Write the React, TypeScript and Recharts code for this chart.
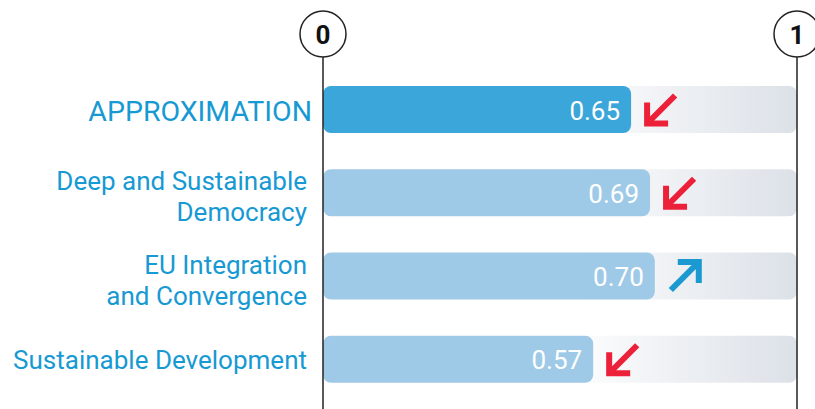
import { BarChart, Bar, XAxis, YAxis, Rectangle } from "recharts";

const categories = [
  "APPROXIMATION",
  "Deep and Sustainable\nDemocracy",
  "EU Integration\nand Convergence",
  "Sustainable Development",
];
const values = [0.65, 0.69, 0.7, 0.57];
const trends = ["down", "down", "up", "down"];
const axisTicks = [0, 1];

const data = categories.map((name, i) => ({
  name,
  value: values[i],
  trend: trends[i],
}));

const LABEL_BLUE = "#1799d3";
const RED = "#ec2139";

function CategoryTick(props: any) {
  const { x, y, payload, index } = props;
  const lines: string[] = String(payload.value).split("\n");
  const main = index === 0;
  const lineHeight = 31;
  const startY = y - ((lines.length - 1) * lineHeight) / 2 + (lines.length > 1 ? 4 : 1);
  const tx = main ? x : x - 5;
  return (
    <text
      x={tx}
      y={startY}
      textAnchor="end"
      dominantBaseline="central"
      fill={LABEL_BLUE}
      fontSize={main ? 28.5 : 26}
      fontFamily="Roboto"
    >
      {lines.map((l, i) => (
        <tspan key={i} x={tx} y={startY + i * lineHeight}>
          {l}
        </tspan>
      ))}
    </text>
  );
}

function ScaleTick(props: any) {
  const { x, payload } = props;
  return (
    <g>
      <line x1={x} x2={x} y1={57} y2={409} stroke="#222" strokeWidth={1.5} />
      <circle cx={x} cy={34} r={23} fill="#fff" stroke="#222" strokeWidth={1.5} />
      <text
        x={x}
        y={35}
        textAnchor="middle"
        dominantBaseline="central"
        fontSize={26}
        fontWeight={700}
        fontFamily="Roboto"
        fill="#111"
      >
        {payload.value}
      </text>
    </g>
  );
}

function Arrow({ cx, cy, up }: { cx: number; cy: number; up: boolean }) {
  const s = 14;
  const h = 21;
  if (up) {
    return (
      <g stroke="#1a9ad0" strokeWidth={6} fill="none">
        <line x1={cx - s} y1={cy + s} x2={cx + s - 3} y2={cy - s + 3} />
        <path d={`M${cx + s - h},${cy - s} L${cx + s},${cy - s} L${cx + s},${cy - s + h}`} />
      </g>
    );
  }
  return (
    <g stroke={RED} strokeWidth={6} fill="none">
      <line x1={cx + s} y1={cy - s} x2={cx - s + 3} y2={cy + s - 3} />
      <path d={`M${cx - s},${cy + s - h} L${cx - s},${cy + s} L${cx - s + h},${cy + s}`} />
    </g>
  );
}

function ValueBar(props: any) {
  const { x, y, width, height, index, payload } = props;
  const fill = index === 0 ? "#3ba6da" : "#9ecae8";
  return (
    <g>
      <Rectangle x={x} y={y} width={width} height={height} radius={8} fill={fill} />
      <text
        x={x + width - 11}
        y={y + height / 2 + 1}
        textAnchor="end"
        dominantBaseline="central"
        fill="#fff"
        fontSize={26}
        fontFamily="Roboto"
      >
        {payload.value.toFixed(2)}
      </text>
      <Arrow cx={x + width + 30} cy={y + height / 2} up={payload.trend === "up"} />
    </g>
  );
}

export default function App() {
  return (
    <div style={{ position: "absolute", left: 0, top: 0, background: "#fff" }}>
      <BarChart
        width={815}
        height={409}
        data={data}
        layout="vertical"
        margin={{ top: 0, right: 18, bottom: 8, left: 0 }}
        barSize={47}
      >
        <defs>
          <linearGradient id="bgGrad" x1="0" y1="0" x2="1" y2="0">
            <stop offset="0.5" stopColor="#ffffff" />
            <stop offset="1" stopColor="#dce1e8" />
          </linearGradient>
        </defs>
        <XAxis
          type="number"
          orientation="top"
          domain={[0, 1]}
          ticks={axisTicks}
          interval={0}
          height={68}
          axisLine={false}
          tickLine={false}
          tick={<ScaleTick />}
        />
        <YAxis
          type="category"
          dataKey="name"
          width={323}
          axisLine={false}
          tickLine={false}
          tickSize={0}
          tickMargin={11}
          interval={0}
          tick={<CategoryTick />}
        />
        <Bar
          dataKey="value"
          isAnimationActive={false}
          background={{ fill: "url(#bgGrad)", radius: 8 }}
          shape={<ValueBar />}
        />
      </BarChart>
    </div>
  );
}
